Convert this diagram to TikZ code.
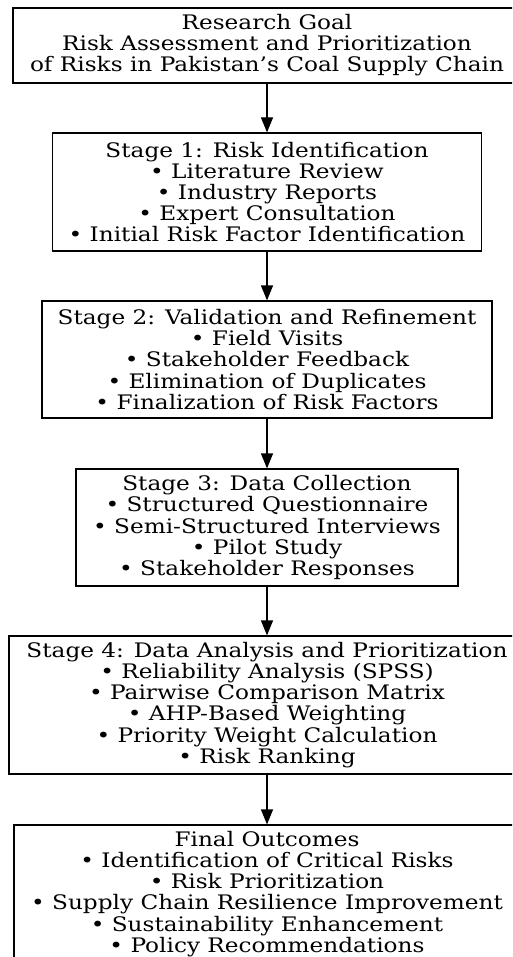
\documentclass[tikz,border=0pt]{standalone}
\usepackage{fontspec}
\setmainfont{DejaVu Serif}[FakeStretch=1.16]
\usetikzlibrary{arrows.meta}
\tikzset{
  stagebox/.style={draw, line width=1.2pt, align=center, inner sep=0pt,
    font=\fontsize{20}{21.1}\selectfont},
  flow/.style={line width=1.2pt, -{Triangle[length=15pt,width=12pt]}}
}
\begin{document}
\begin{tikzpicture}[x=1pt,y=1pt]
\useasboundingbox (0,0) rectangle (512,-957);
\clip (0,0) rectangle (512,-957);
% boxes, top to bottom
\node[stagebox, minimum width=508pt, minimum height=75pt] (goal) at (267,-45.5)
  {Research Goal\\Risk Assessment and Prioritization\\of Risks in Pakistan’s Coal Supply Chain};
\node[stagebox, minimum width=429pt, minimum height=118pt] (stage1) at (267,-192)
  {Stage 1: Risk Identification\\• Literature Review\\• Industry Reports\\• Expert Consultation\\• Initial Risk Factor Identification};
\node[stagebox, minimum width=450pt, minimum height=117pt] (stage2) at (267,-359.5)
  {Stage 2: Validation and Refinement\\• Field Visits\\• Stakeholder Feedback\\• Elimination of Duplicates\\• Finalization of Risk Factors};
\node[stagebox, minimum width=382pt, minimum height=117pt] (stage3) at (267,-527.5)
  {Stage 3: Data Collection\\• Structured Questionnaire\\• Semi-Structured Interviews\\• Pilot Study\\• Stakeholder Responses};
\node[stagebox, minimum width=516pt, minimum height=138pt] (stage4) at (267,-705)
  {Stage 4: Data Analysis and Prioritization\\• Reliability Analysis (SPSS)\\• Pairwise Comparison Matrix\\• AHP-Based Weighting\\• Priority Weight Calculation\\• Risk Ranking};
\node[stagebox, minimum width=506pt, minimum height=138pt] (final) at (267,-894)
  {Final Outcomes\\• Identification of Critical Risks\\• Risk Prioritization\\• Supply Chain Resilience Improvement\\• Sustainability Enhancement\\• Policy Recommendations};
% arrows
\draw[flow] (goal) -- (stage1);
\draw[flow] (stage1) -- (stage2);
\draw[flow] (stage2) -- (stage3);
\draw[flow] (stage3) -- (stage4);
\draw[flow] (stage4) -- (final);
\end{tikzpicture}
\end{document}
